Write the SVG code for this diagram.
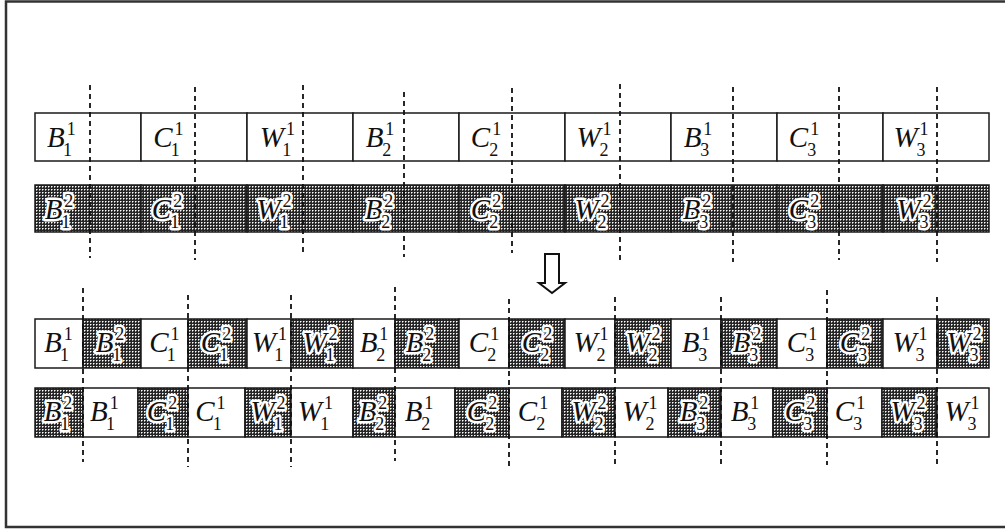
<svg xmlns="http://www.w3.org/2000/svg" width="1005" height="529" viewBox="0 0 1005 529">
  <defs>
    <!-- dark screen-tone used for the second-copy cells -->
    <pattern id="hatch" width="3" height="3" patternUnits="userSpaceOnUse">
      <rect width="3" height="3" fill="#262626"/>
      <rect x="0" y="0" width="1" height="1" fill="#ffffff"/>
      <rect x="1" y="0" width="1" height="1" fill="#9a9a9a"/>
      <rect x="0" y="1" width="1" height="1" fill="#9a9a9a"/>
    </pattern>
    <style>
      .frame { fill: none; stroke: #333; stroke-width: 2.5; }
      .cw { fill: #fff; stroke: #1a1a1a; stroke-width: 1.5; }
      .cs { fill: url(#hatch); stroke: #1a1a1a; stroke-width: 1.5; }
      .t { font-family: "Liberation Serif", "Times New Roman", serif; font-size: 29px; font-style: italic; fill: #111; text-anchor: middle; }
      .t .n { font-style: normal; font-size: 18px; }
      .h { stroke: #fff; stroke-width: 5; stroke-linejoin: round; paint-order: stroke; }
      .dash { fill: none; stroke: #111; stroke-width: 1.8; stroke-dasharray: 5 4; }
      .arrow { fill: #fff; stroke: #111; stroke-width: 2; stroke-linejoin: miter; }
    </style>
  </defs>

  <rect width="1005" height="529" fill="#fff"/>
  <path class="frame" d="M1006,1.5 H6 V527 H1006"/>

  <!-- row A: first copies, one full slot each -->
  <g id="rowA">
    <g id="a1"><rect class="cw" x="35" y="113" width="106" height="48"/><text class="t" x="61" y="147">B<tspan class="n" dx="2" dy="-12">1</tspan><tspan class="n" dx="-12" dy="20.5">1</tspan></text></g>
    <g id="a2"><rect class="cw" x="141" y="113" width="106" height="48"/><text class="t" x="168" y="147">C<tspan class="n" dx="2" dy="-12">1</tspan><tspan class="n" dx="-12" dy="20.5">1</tspan></text></g>
    <g id="a3"><rect class="cw" x="247" y="113" width="106" height="48"/><text class="t" x="277" y="147">W<tspan class="n" dx="2" dy="-12">1</tspan><tspan class="n" dx="-12" dy="20.5">1</tspan></text></g>
    <g id="a4"><rect class="cw" x="353" y="113" width="106" height="48"/><text class="t" x="380" y="147">B<tspan class="n" dx="2" dy="-12">1</tspan><tspan class="n" dx="-12" dy="20.5">2</tspan></text></g>
    <g id="a5"><rect class="cw" x="459" y="113" width="106" height="48"/><text class="t" x="486" y="147">C<tspan class="n" dx="2" dy="-12">1</tspan><tspan class="n" dx="-12" dy="20.5">2</tspan></text></g>
    <g id="a6"><rect class="cw" x="565" y="113" width="106" height="48"/><text class="t" x="594" y="147">W<tspan class="n" dx="2" dy="-12">1</tspan><tspan class="n" dx="-12" dy="20.5">2</tspan></text></g>
    <g id="a7"><rect class="cw" x="671" y="113" width="106" height="48"/><text class="t" x="698" y="147">B<tspan class="n" dx="2" dy="-12">1</tspan><tspan class="n" dx="-12" dy="20.5">3</tspan></text></g>
    <g id="a8"><rect class="cw" x="777" y="113" width="106" height="48"/><text class="t" x="804" y="147">C<tspan class="n" dx="2" dy="-12">1</tspan><tspan class="n" dx="-12" dy="20.5">3</tspan></text></g>
    <g id="a9"><rect class="cw" x="883" y="113" width="106" height="48"/><text class="t" x="911" y="147">W<tspan class="n" dx="2" dy="-12">1</tspan><tspan class="n" dx="-12" dy="20.5">3</tspan></text></g>
  </g>

  <!-- row B: second copies -->
  <g id="rowB">
    <g id="b1"><rect class="cs" x="35" y="185" width="106" height="47"/><text class="t h" x="59" y="219">B<tspan class="n" dx="2" dy="-12">2</tspan><tspan class="n" dx="-12" dy="20.5">1</tspan></text></g>
    <g id="b2"><rect class="cs" x="141" y="185" width="106" height="47"/><text class="t h" x="167" y="219">C<tspan class="n" dx="2" dy="-12">2</tspan><tspan class="n" dx="-12" dy="20.5">1</tspan></text></g>
    <g id="b3"><rect class="cs" x="247" y="185" width="106" height="47"/><text class="t h" x="274" y="219">W<tspan class="n" dx="2" dy="-12">2</tspan><tspan class="n" dx="-12" dy="20.5">1</tspan></text></g>
    <g id="b4"><rect class="cs" x="353" y="185" width="106" height="47"/><text class="t h" x="379" y="219">B<tspan class="n" dx="2" dy="-12">2</tspan><tspan class="n" dx="-12" dy="20.5">2</tspan></text></g>
    <g id="b5"><rect class="cs" x="459" y="185" width="106" height="47"/><text class="t h" x="486" y="219">C<tspan class="n" dx="2" dy="-12">2</tspan><tspan class="n" dx="-12" dy="20.5">2</tspan></text></g>
    <g id="b6"><rect class="cs" x="565" y="185" width="106" height="47"/><text class="t h" x="592" y="219">W<tspan class="n" dx="2" dy="-12">2</tspan><tspan class="n" dx="-12" dy="20.5">2</tspan></text></g>
    <g id="b7"><rect class="cs" x="671" y="185" width="106" height="47"/><text class="t h" x="697" y="219">B<tspan class="n" dx="2" dy="-12">2</tspan><tspan class="n" dx="-12" dy="20.5">3</tspan></text></g>
    <g id="b8"><rect class="cs" x="777" y="185" width="106" height="47"/><text class="t h" x="804" y="219">C<tspan class="n" dx="2" dy="-12">2</tspan><tspan class="n" dx="-12" dy="20.5">3</tspan></text></g>
    <g id="b9"><rect class="cs" x="883" y="185" width="106" height="47"/><text class="t h" x="914" y="219">W<tspan class="n" dx="2" dy="-12">2</tspan><tspan class="n" dx="-12" dy="20.5">3</tspan></text></g>
  </g>

  <!-- row C: interleaved, first copy leading -->
  <g id="rowC">
    <g id="c1"><rect class="cw" x="35" y="319" width="48" height="49"/><text class="t" x="58" y="352">B<tspan class="n" dx="2" dy="-12">1</tspan><tspan class="n" dx="-12" dy="20.5">1</tspan></text></g>
    <g id="c2"><rect class="cs" x="83" y="319" width="58" height="49"/><text class="t h" x="110" y="352">B<tspan class="n" dx="2" dy="-12">2</tspan><tspan class="n" dx="-12" dy="20.5">1</tspan></text></g>
    <g id="c3"><rect class="cw" x="141" y="319" width="47" height="49"/><text class="t" x="164" y="352">C<tspan class="n" dx="2" dy="-12">1</tspan><tspan class="n" dx="-12" dy="20.5">1</tspan></text></g>
    <g id="c4"><rect class="cs" x="188" y="319" width="59" height="49"/><text class="t h" x="216" y="352">C<tspan class="n" dx="2" dy="-12">2</tspan><tspan class="n" dx="-12" dy="20.5">1</tspan></text></g>
    <g id="c5"><rect class="cw" x="247" y="319" width="44" height="49"/><text class="t" x="269" y="352">W<tspan class="n" dx="2" dy="-12">1</tspan><tspan class="n" dx="-12" dy="20.5">1</tspan></text></g>
    <g id="c6"><rect class="cs" x="291" y="319" width="62" height="49"/><text class="t h" x="320" y="352">W<tspan class="n" dx="2" dy="-12">2</tspan><tspan class="n" dx="-12" dy="20.5">1</tspan></text></g>
    <g id="c7"><rect class="cw" x="353" y="319" width="42" height="49"/><text class="t" x="374" y="352">B<tspan class="n" dx="2" dy="-12">1</tspan><tspan class="n" dx="-12" dy="20.5">2</tspan></text></g>
    <g id="c8"><rect class="cs" x="395" y="319" width="64" height="49"/><text class="t h" x="420" y="352">B<tspan class="n" dx="2" dy="-12">2</tspan><tspan class="n" dx="-12" dy="20.5">2</tspan></text></g>
    <g id="c9"><rect class="cw" x="459" y="319" width="50" height="49"/><text class="t" x="484" y="352">C<tspan class="n" dx="2" dy="-12">1</tspan><tspan class="n" dx="-12" dy="20.5">2</tspan></text></g>
    <g id="c10"><rect class="cs" x="509" y="319" width="56" height="49"/><text class="t h" x="537" y="352">C<tspan class="n" dx="2" dy="-12">2</tspan><tspan class="n" dx="-12" dy="20.5">2</tspan></text></g>
    <g id="c11"><rect class="cw" x="565" y="319" width="50" height="49"/><text class="t" x="591" y="352">W<tspan class="n" dx="2" dy="-12">1</tspan><tspan class="n" dx="-12" dy="20.5">2</tspan></text></g>
    <g id="c12"><rect class="cs" x="615" y="319" width="56" height="49"/><text class="t h" x="643" y="352">W<tspan class="n" dx="2" dy="-12">2</tspan><tspan class="n" dx="-12" dy="20.5">2</tspan></text></g>
    <g id="c13"><rect class="cw" x="671" y="319" width="50" height="49"/><text class="t" x="696" y="352">B<tspan class="n" dx="2" dy="-12">1</tspan><tspan class="n" dx="-12" dy="20.5">3</tspan></text></g>
    <g id="c14"><rect class="cs" x="721" y="319" width="56" height="49"/><text class="t h" x="747" y="352">B<tspan class="n" dx="2" dy="-12">2</tspan><tspan class="n" dx="-12" dy="20.5">3</tspan></text></g>
    <g id="c15"><rect class="cw" x="777" y="319" width="50" height="49"/><text class="t" x="802" y="352">C<tspan class="n" dx="2" dy="-12">1</tspan><tspan class="n" dx="-12" dy="20.5">3</tspan></text></g>
    <g id="c16"><rect class="cs" x="827" y="319" width="56" height="49"/><text class="t h" x="855" y="352">C<tspan class="n" dx="2" dy="-12">2</tspan><tspan class="n" dx="-12" dy="20.5">3</tspan></text></g>
    <g id="c17"><rect class="cw" x="883" y="319" width="54" height="49"/><text class="t" x="910" y="352">W<tspan class="n" dx="2" dy="-12">1</tspan><tspan class="n" dx="-12" dy="20.5">3</tspan></text></g>
    <g id="c18"><rect class="cs" x="937" y="319" width="52" height="49"/><text class="t h" x="964" y="352">W<tspan class="n" dx="2" dy="-12">2</tspan><tspan class="n" dx="-12" dy="20.5">3</tspan></text></g>
  </g>

  <!-- row D: interleaved, second copy leading -->
  <g id="rowD">
    <g id="d1"><rect class="cs" x="35" y="388" width="48" height="49"/><text class="t h" x="58" y="421">B<tspan class="n" dx="2" dy="-12">2</tspan><tspan class="n" dx="-12" dy="20.5">1</tspan></text></g>
    <g id="d2"><rect class="cw" x="83" y="388" width="55" height="49"/><text class="t" x="104" y="421">B<tspan class="n" dx="2" dy="-12">1</tspan><tspan class="n" dx="-12" dy="20.5">1</tspan></text></g>
    <g id="d3"><rect class="cs" x="138" y="388" width="50" height="49"/><text class="t h" x="162" y="421">C<tspan class="n" dx="2" dy="-12">2</tspan><tspan class="n" dx="-12" dy="20.5">1</tspan></text></g>
    <g id="d4"><rect class="cw" x="188" y="388" width="57" height="49"/><text class="t" x="210" y="421">C<tspan class="n" dx="2" dy="-12">1</tspan><tspan class="n" dx="-12" dy="20.5">1</tspan></text></g>
    <g id="d5"><rect class="cs" x="245" y="388" width="46" height="49"/><text class="t h" x="268" y="421">W<tspan class="n" dx="2" dy="-12">2</tspan><tspan class="n" dx="-12" dy="20.5">1</tspan></text></g>
    <g id="d6"><rect class="cw" x="291" y="388" width="62" height="49"/><text class="t" x="315" y="421">W<tspan class="n" dx="2" dy="-12">1</tspan><tspan class="n" dx="-12" dy="20.5">1</tspan></text></g>
    <g id="d7"><rect class="cs" x="353" y="388" width="42" height="49"/><text class="t h" x="373" y="421">B<tspan class="n" dx="2" dy="-12">2</tspan><tspan class="n" dx="-12" dy="20.5">2</tspan></text></g>
    <g id="d8"><rect class="cw" x="395" y="388" width="60" height="49"/><text class="t" x="419" y="421">B<tspan class="n" dx="2" dy="-12">1</tspan><tspan class="n" dx="-12" dy="20.5">2</tspan></text></g>
    <g id="d9"><rect class="cs" x="455" y="388" width="54" height="49"/><text class="t h" x="482" y="421">C<tspan class="n" dx="2" dy="-12">2</tspan><tspan class="n" dx="-12" dy="20.5">2</tspan></text></g>
    <g id="d10"><rect class="cw" x="509" y="388" width="53" height="49"/><text class="t" x="533" y="421">C<tspan class="n" dx="2" dy="-12">1</tspan><tspan class="n" dx="-12" dy="20.5">2</tspan></text></g>
    <g id="d11"><rect class="cs" x="562" y="388" width="53" height="49"/><text class="t h" x="589" y="421">W<tspan class="n" dx="2" dy="-12">2</tspan><tspan class="n" dx="-12" dy="20.5">2</tspan></text></g>
    <g id="d12"><rect class="cw" x="615" y="388" width="53" height="49"/><text class="t" x="640" y="421">W<tspan class="n" dx="2" dy="-12">1</tspan><tspan class="n" dx="-12" dy="20.5">2</tspan></text></g>
    <g id="d13"><rect class="cs" x="668" y="388" width="53" height="49"/><text class="t h" x="694" y="421">B<tspan class="n" dx="2" dy="-12">2</tspan><tspan class="n" dx="-12" dy="20.5">3</tspan></text></g>
    <g id="d14"><rect class="cw" x="721" y="388" width="52" height="49"/><text class="t" x="745" y="421">B<tspan class="n" dx="2" dy="-12">1</tspan><tspan class="n" dx="-12" dy="20.5">3</tspan></text></g>
    <g id="d15"><rect class="cs" x="773" y="388" width="54" height="49"/><text class="t h" x="800" y="421">C<tspan class="n" dx="2" dy="-12">2</tspan><tspan class="n" dx="-12" dy="20.5">3</tspan></text></g>
    <g id="d16"><rect class="cw" x="827" y="388" width="55" height="49"/><text class="t" x="850" y="421">C<tspan class="n" dx="2" dy="-12">1</tspan><tspan class="n" dx="-12" dy="20.5">3</tspan></text></g>
    <g id="d17"><rect class="cs" x="882" y="388" width="55" height="49"/><text class="t h" x="908" y="421">W<tspan class="n" dx="2" dy="-12">2</tspan><tspan class="n" dx="-12" dy="20.5">3</tspan></text></g>
    <g id="d18"><rect class="cw" x="937" y="388" width="52" height="49"/><text class="t" x="962" y="421">W<tspan class="n" dx="2" dy="-12">1</tspan><tspan class="n" dx="-12" dy="20.5">3</tspan></text></g>
  </g>

  <!-- dashed cut lines and the transform arrow -->
  <g id="connectors">
    <g id="cuts-top">
      <line class="dash" x1="90" y1="85" x2="90" y2="258"/>
      <line class="dash" x1="195" y1="87" x2="195" y2="260"/>
      <line class="dash" x1="303" y1="85" x2="303" y2="253"/>
      <line class="dash" x1="404" y1="92" x2="404" y2="257"/>
      <line class="dash" x1="512" y1="88" x2="512" y2="253"/>
      <line class="dash" x1="620" y1="84" x2="620" y2="260"/>
      <line class="dash" x1="733" y1="87" x2="733" y2="262"/>
      <line class="dash" x1="839" y1="87" x2="839" y2="260"/>
      <line class="dash" x1="937" y1="87" x2="937" y2="262"/>
    </g>
    <g id="cuts-bottom">
      <line class="dash" x1="83" y1="288" x2="83" y2="462"/>
      <line class="dash" x1="188" y1="295" x2="188" y2="467"/>
      <line class="dash" x1="291" y1="295" x2="291" y2="467"/>
      <line class="dash" x1="395" y1="287" x2="395" y2="461"/>
      <line class="dash" x1="509" y1="299" x2="509" y2="467"/>
      <line class="dash" x1="615" y1="297" x2="615" y2="467"/>
      <line class="dash" x1="721" y1="297" x2="721" y2="465"/>
      <line class="dash" x1="827" y1="290" x2="827" y2="465"/>
      <line class="dash" x1="937" y1="297" x2="937" y2="465"/>
    </g>
    <polygon id="arrow" class="arrow" points="545,254 559,254 559,283 565,283 552,293 539,283 545,283"/>
  </g>
</svg>
